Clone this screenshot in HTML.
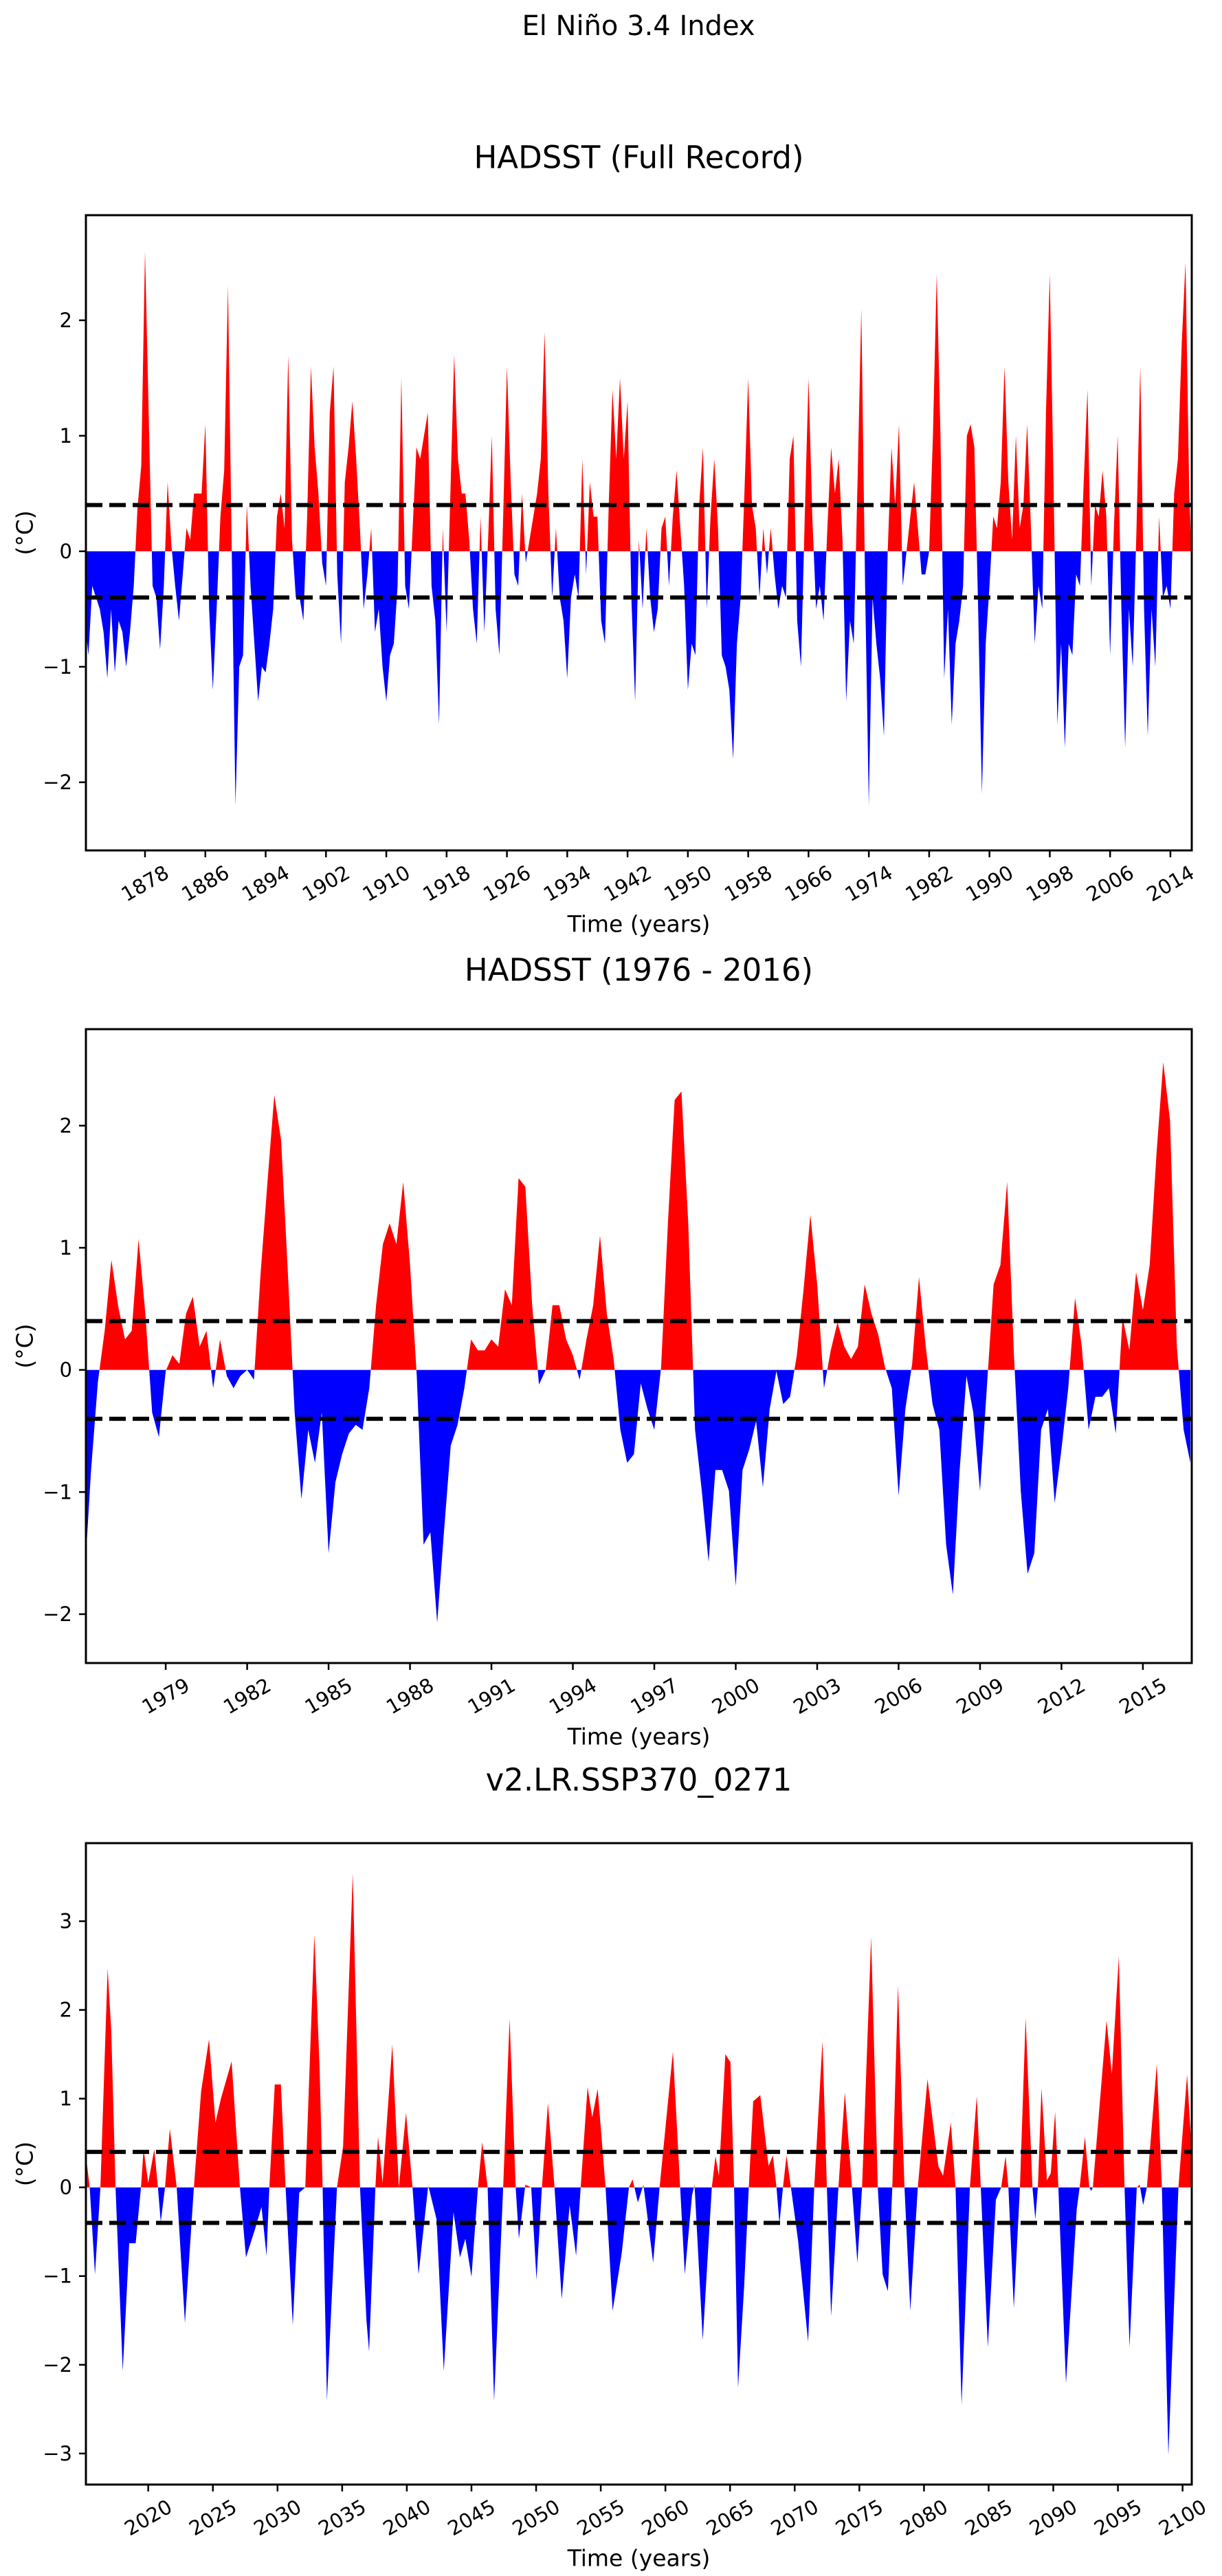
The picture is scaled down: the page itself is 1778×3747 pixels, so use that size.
<!DOCTYPE html>
<html><head><meta charset="utf-8"><style>
html,body{margin:0;padding:0;background:#fff;}
svg{display:block;font-family:"DejaVu Sans","Liberation Sans",sans-serif;}
</style></head><body>
<svg id="fig" xmlns="http://www.w3.org/2000/svg" width="1778" height="3747" viewBox="0 0 1778 3747">
<rect width="1778" height="3747" fill="#fff"/>
<text x="929" y="38" font-size="40" text-anchor="middle" dominant-baseline="central">El Niño 3.4 Index</text>
</svg>
<script>
// ---- Chart 1: HADSST full record (half-year samples from 1870.0) ----
const c1Start = 1870.0;
const c1Step = 0.5;
const c1Values = [-0.6,-0.9,-0.3,-0.4,-0.5,-0.7,-1.1,-0.5,-1.05,-0.6,-0.7,-1.0,-0.7,-0.3,0.37,0.74,2.6,1.15,-0.3,-0.4,-0.85,-0.3,0.6,0.05,-0.3,-0.6,-0.2,0.2,0.1,0.5,0.5,0.5,1.1,-0.5,-1.2,-0.5,0.3,0.7,2.3,0.0,-2.2,-1.0,-0.9,0.4,-0.3,-0.8,-1.3,-1.0,-1.05,-0.8,-0.5,0.3,0.5,0.2,1.7,0.1,-0.4,-0.4,-0.6,0.3,1.6,0.9,0.5,-0.1,-0.3,1.2,1.6,-0.2,-0.8,0.6,0.9,1.3,0.8,0.2,-0.5,-0.2,0.2,-0.7,-0.5,-1.0,-1.3,-0.9,-0.8,-0.3,
1.5,-0.3,-0.5,0.2,0.9,0.8,1.0,1.2,-0.3,-0.6,-1.5,0.2,-0.7,0.5,1.7,0.8,0.5,0.5,0.1,-0.5,-0.8,0.3,-0.7,0.1,1.0,-0.5,-0.9,0.3,1.6,0.6,-0.2,-0.3,0.5,-0.1,0.1,0.3,0.5,0.8,1.9,0.5,-0.4,0.2,-0.4,-0.6,-1.1,-0.4,-0.2,-0.4,0.8,-0.2,0.6,0.3,0.3,-0.6,-0.8,0.4,1.4,0.8,1.5,0.8,1.3,-0.4,-1.3,0.1,-0.5,0.2,-0.4,-0.7,-0.5,0.2,0.3,-0.3,0.3,0.7,0.2,-0.3,-1.2,-0.8,-0.9,0.4,0.9,-0.5,0.3,0.8,0.2,-0.9,-1.0,-1.2,-1.8,-0.8,-0.4,0.5,1.5,0.4,0.2,-0.4,0.2,-0.2,0.2,-0.2,-0.5,-0.3,-0.4,0.8,
1.0,-0.6,-1.0,0.3,1.5,0.3,-0.5,-0.3,-0.6,0.2,0.9,0.5,0.8,0.1,-1.3,-0.6,-0.8,0.6,2.1,-0.3,-2.2,-0.4,-0.8,-1.1,-1.6,0.0,0.9,0.4,1.1,-0.3,0.0,0.3,0.6,0.2,-0.2,-0.2,0.0,1.0,2.4,1.0,-1.1,-0.5,-1.5,-0.8,-0.6,-0.3,1.0,1.1,0.9,-0.5,-2.1,-0.8,-0.3,0.3,0.2,0.6,1.6,0.6,0.1,1.0,0.2,0.4,1.1,0.2,-0.8,-0.3,-0.5,1.2,2.4,0.6,-1.5,-0.8,-1.7,-0.8,-0.9,-0.2,-0.3,0.6,1.4,-0.3,0.4,0.3,0.7,0.3,-0.9,0.2,1.0,-0.5,-1.7,-0.5,-1.0,0.2,1.6,-0.5,-1.6,-0.5,-1.0,0.3,-0.4,-0.3,-0.5,0.5,0.8,1.8,2.5,0.5,-0.4];
const c1YTicks = [-2,-1,0,1,2];
const c1XTicks = [1878,1886,1894,1902,1910,1918,1926,1934,1942,1950,1958,1966,1974,1982,1990,1998,2006,2014];

// ---- Chart 2: HADSST 1976-2016 (quarterly samples from 1976.0) ----
const c2Start = 1976.0;
const c2Step = 0.25;
const c2Values = [-1.75,-0.82,-0.1,0.32,0.9,0.52,0.25,0.32,1.07,0.46,-0.35,-0.55,-0.01,0.12,0.05,0.46,0.6,0.19,0.32,-0.15,0.25,-0.05,-0.15,-0.05,0,-0.08,0.8,1.54,2.25,1.88,0.8,-0.35,-1.06,-0.49,-0.76,-0.35,-1.5,-0.92,-0.69,-0.52,-0.45,-0.49,-0.15,0.53,1.03,1.2,1.03,1.54,0.86,-0.05,-1.43,-1.33,-2.07,-1.33,-0.62,-0.45,-0.15,0.25,0.16,0.16,0.25,0.19,0.66,0.53,1.57,1.5,0.53,-0.12,0,0.53,0.53,0.25,0.12,-0.08,0.25,0.53,1.1,0.46,0.09,-0.49,-0.76,-0.69,-0.11,-0.32,-0.49,0.02,1.2,2.21,2.28,1.2,-0.49,-0.99,-1.57,-0.82,-0.82,-0.99,-1.77,-0.82,-0.65,-0.42,-0.96,-0.32,-0.01,-0.28,-0.22,0.12,0.66,1.27,0.7,-0.15,0.16,0.39,0.19,0.09,0.19,0.7,0.46,0.29,0.02,-0.15,-1.03,-0.32,0.05,0.76,0.19,-0.28,-0.49,-1.43,-1.84,-0.82,-0.05,-0.35,-0.99,-0.15,0.7,0.86,1.54,0.12,-0.99,-1.67,-1.5,-0.49,-0.32,-1.09,-0.65,-0.15,0.59,0.19,-0.49,-0.22,-0.22,-0.15,-0.52,0.43,0.16,0.8,0.49,0.86,1.77,2.52,2.04,0.19,-0.49,-0.76];
const c2YTicks = [-2,-1,0,1,2];
const c2XTicks = [1979,1982,1985,1988,1991,1994,1997,2000,2003,2006,2009,2012,2015];

// ---- Chart 3: v2.LR.SSP370_0271 ----
const c3Times = [2015.19,2015.47,2015.88,2016.3,2016.86,2017.14,2017.47,2018.03,2018.53,2019.03,2019.44,2019.64,2020.0,2020.47,2020.75,2020.97,2021.3,2021.67,2022.2,2022.84,2023.53,2024.09,2024.7,2025.2,2025.62,2026.45,2027.09,2027.56,2028.26,2028.76,2029.15,2029.37,2029.79,2030.26,2030.62,2031.18,2031.68,2032.15,2032.85,2033.26,2033.49,2033.82,2034.6,2035.07,2035.82,2036.38,2036.88,2037.08,2037.57,2037.77,2038.13,2038.88,2039.38,2039.94,2040.44,2040.91,2041.66,2042.3,2042.86,2043.61,2044.11,2044.53,2045.0,2045.5,2045.83,2046.25,2046.75,2047.45,2047.95,2048.42,2048.67,2049.17,2049.62,2050.03,2050.45,2050.92,2051.42,2051.98,2052.59,2053.09,2053.45,2053.98,2054.34,2054.76,2055.37,2055.92,2056.62,2057.18,2057.46,2057.87,2058.3,2059.05,2059.55,2060.58,2061.14,2061.5,2062.06,2062.25,2062.89,2063.59,2063.87,2064.14,2064.64,2065.03,2065.31,2065.62,2066.09,2066.45,2066.79,2067.34,2067.98,2068.31,2068.59,2068.82,2069.09,2069.37,2069.71,2070.26,2071.04,2071.51,2072.15,2072.49,2072.82,2073.38,2073.88,2074.43,2074.85,2075.21,2075.91,2076.43,2076.8,2077.21,2077.55,2077.99,2078.49,2078.94,2079.52,2080.27,2081.11,2081.47,2082.08,2082.44,2082.91,2083.55,2084.08,2084.39,2084.94,2085.56,2085.97,2086.31,2086.53,2086.95,2087.42,2087.86,2088.39,2088.61,2088.81,2089.09,2089.51,2089.81,2090.14,2090.39,2090.98,2091.81,2092.04,2092.45,2092.79,2092.92,2093.06,2094.12,2094.53,2095.07,2095.51,2095.9,2096.46,2096.68,2096.95,2097.24,2098.01,2098.4,2098.9,2099.68,2100.35,2100.71];
const c3Values = [0.35,0,-0.98,0,2.47,1.76,0,-2.07,-0.63,-0.63,0,0.43,0.05,0.43,0,-0.39,0,0.66,0,-1.53,0,1.08,1.67,0.73,1.0,1.42,0,-0.79,-0.47,-0.22,-0.77,0,1.16,1.16,0,-1.55,-0.06,0,2.85,1.33,0,-2.4,0,0.46,3.54,0,-1.5,-1.85,0,0.57,0.05,1.61,0,0.84,0,-0.98,0.02,-0.36,-2.07,-0.28,-0.79,-0.58,-1.01,0,0.51,0,-2.41,0,1.9,0,-0.58,0.03,0,-1.04,0,0.95,0,-1.26,-0.2,-0.77,0,1.13,0.79,1.11,0,-1.39,-0.74,0,0.09,-0.17,0.03,-0.85,0,1.53,0,-0.98,-0.09,0.03,-1.72,0,0.35,0.13,1.5,1.41,0,-2.26,-1.12,0,0.97,1.04,0.24,0.36,0,-0.41,0,0.36,0,-0.6,-1.74,0,1.65,0,-1.45,0,1.07,0,-0.85,0,2.82,0,-0.98,-1.17,0,2.28,0,-1.39,0,1.22,0.24,0.13,0.73,0,-2.45,0,1.03,0,-1.8,-0.14,0,0.35,0,-1.36,0,1.91,0,-0.36,0,1.12,0.08,0.16,0.85,0,-2.21,-0.25,0,0.57,0,-0.04,0,1.88,1.28,2.6,0,-1.8,0,0.03,-0.2,0,1.39,0,-3.02,0,1.27,0.4];
const c3YTicks = [-3,-2,-1,0,1,2,3];
const c3XTicks = [2020,2025,2030,2035,2040,2045,2050,2055,2060,2065,2070,2075,2080,2085,2090,2095,2100];

const NS = 'http://www.w3.org/2000/svg';
const fig = document.getElementById('fig');
function mk(tag, attrs, parent) {
  const e = document.createElementNS(NS, tag);
  for (const k in attrs) e.setAttribute(k, attrs[k]);
  (parent || fig).appendChild(e);
  return e;
}
function fmt(v) { return v < 0 ? '\u2212' + Math.abs(v) : String(v); }

function drawChart(id, geo, times, values, xTicks, yTicks, title) {
  const xs = t => geo.left + (t - geo.xmin) / (geo.xmax - geo.xmin) * (geo.right - geo.left);
  const ys = v => geo.bottom - (v - geo.ymin) / (geo.ymax - geo.ymin) * (geo.bottom - geo.top);
  const g = mk('g', {});
  
  

  const t = mk('text', {x: (geo.left + geo.right) / 2, y: geo.titleY, 'font-size': 45, 'text-anchor': 'middle', 'dominant-baseline': 'central'}, g);
  
  
  t.textContent = title;

  const defs = mk('defs', {}, g);
  const y0 = ys(0);
  const cpU = mk('clipPath', {id: id + '-up'}, defs);
  mk('rect', {x: geo.left, y: geo.top, width: geo.right - geo.left, height: y0 - geo.top}, cpU);
  const cpD = mk('clipPath', {id: id + '-dn'}, defs);
  mk('rect', {x: geo.left, y: y0, width: geo.right - geo.left, height: geo.bottom - y0}, cpD);

  let d = 'M' + xs(times[0]).toFixed(1) + ',' + y0.toFixed(1);
  for (let i = 0; i < values.length; i++) d += 'L' + xs(times[i]).toFixed(1) + ',' + ys(values[i]).toFixed(1);
  d += 'L' + xs(times[times.length - 1]).toFixed(1) + ',' + y0.toFixed(1) + 'Z';
  const pu = mk('path', {d: d, fill: '#ff0000', 'clip-path': 'url(#' + id + '-up)'}, g);
  
  
  const pd = mk('path', {d: d, fill: '#0000ff', 'clip-path': 'url(#' + id + '-dn)'}, g);
  
  

  [0.4, -0.4].forEach(th => {
    const l = mk('line', {x1: geo.left, x2: geo.right, y1: ys(th), y2: ys(th), stroke: '#000', 'stroke-width': 6, 'stroke-dasharray': '24 10'}, g);
    
    
  });

  const fr = mk('rect', {x: geo.left, y: geo.top, width: geo.right - geo.left, height: geo.bottom - geo.top, fill: 'none', stroke: '#000', 'stroke-width': 3}, g);
  
  

  yTicks.forEach(v => {
    const y = ys(v);
    mk('line', {x1: geo.left - 10, x2: geo.left, y1: y, y2: y, stroke: '#000', 'stroke-width': 2.5}, g);
    const lb = mk('text', {x: geo.left - 20, y: y, 'font-size': 29, 'text-anchor': 'end', 'dominant-baseline': 'central'}, g);
    
    
    lb.textContent = fmt(v);
  });
  xTicks.forEach(v => {
    const x = xs(v);
    mk('line', {x1: x, x2: x, y1: geo.bottom, y2: geo.bottom + 10, stroke: '#000', 'stroke-width': 2.5}, g);
    const cy = geo.bottom + 48;
    const lb = mk('text', {x: x, y: cy, 'font-size': 29, 'text-anchor': 'middle', 'dominant-baseline': 'central', transform: 'rotate(-30 ' + x + ' ' + cy + ')'}, g);
    
    
    lb.textContent = String(v);
  });
  const xl = mk('text', {x: (geo.left + geo.right) / 2, y: geo.bottom + 107, 'font-size': 33, 'text-anchor': 'middle', 'dominant-baseline': 'central'}, g);
  
  
  xl.textContent = 'Time (years)';
  const cy = (geo.top + geo.bottom) / 2;
  const yl = mk('text', {x: 36, y: cy, 'font-size': 33, 'text-anchor': 'middle', 'dominant-baseline': 'central', transform: 'rotate(-90 36 ' + cy + ')'}, g);
  
  
  yl.textContent = '(°C)';
}

const c1Times = c1Values.map((v, i) => c1Start + i * c1Step);
const c2Times = c2Values.map((v, i) => c2Start + i * c2Step);

drawChart('full-record', {left: 125, right: 1734, top: 313, bottom: 1237, xmin: 1870.16, xmax: 2016.83, ymin: -2.59, ymax: 2.91, titleY: 229},
  c1Times, c1Values, c1XTicks, c1YTicks, 'HADSST (Full Record)');
drawChart('recent', {left: 125, right: 1734, top: 1497, bottom: 2419, xmin: 1976.06, xmax: 2016.8, ymin: -2.40, ymax: 2.79, titleY: 1411},
  c2Times, c2Values, c2XTicks, c2YTicks, 'HADSST (1976 - 2016)');
drawChart('ssp370', {left: 125, right: 1734, top: 2681, bottom: 3614, xmin: 2015.18, xmax: 2100.71, ymin: -3.35, ymax: 3.88, titleY: 2589},
  c3Times, c3Values, c3XTicks, c3YTicks, 'v2.LR.SSP370_0271');
</script>
</body></html>
